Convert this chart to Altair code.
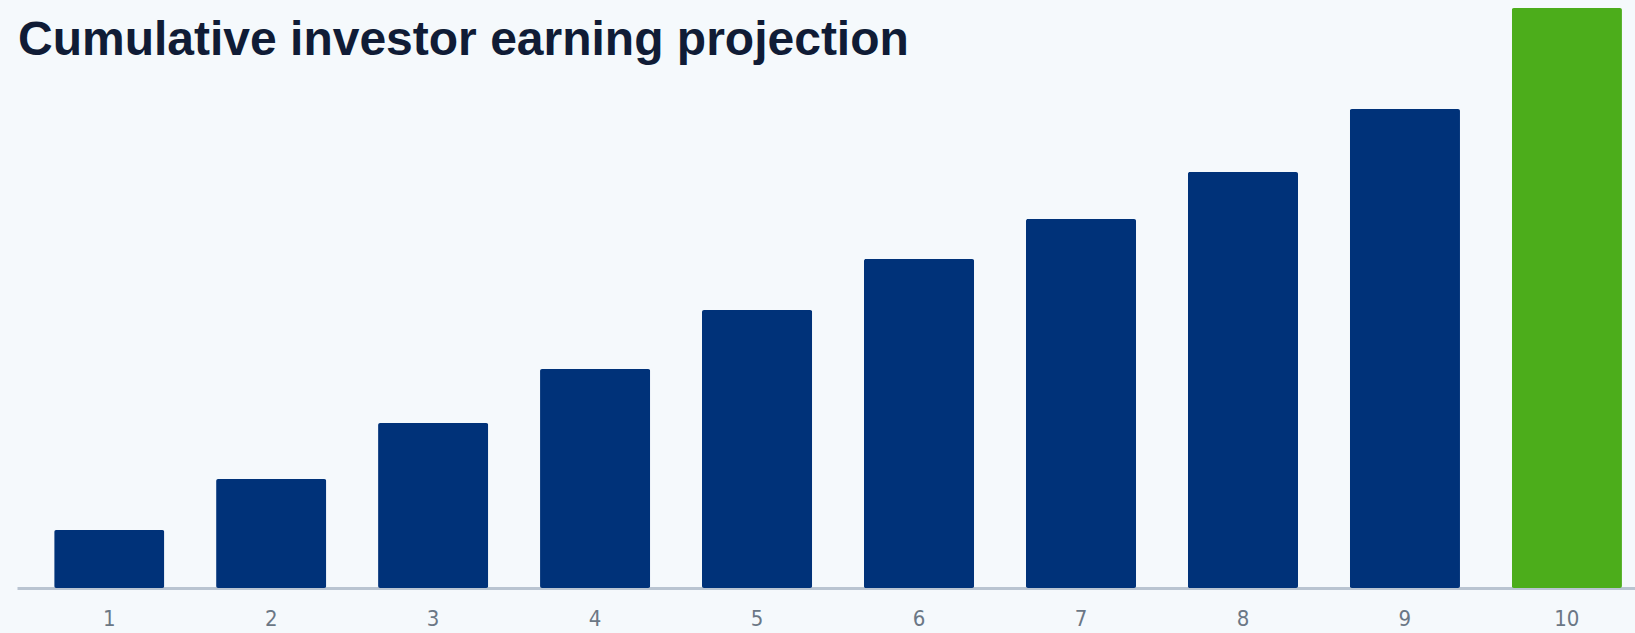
import altair as alt
import pandas as pd

title_text = "Cumulative investor earning projection"
years = ["1", "2", "3", "4", "5", "6", "7", "8", "9", "10"]
earnings = [58, 109, 165, 219, 278, 329, 369, 416, 479, 580]
highlight = ["no"] * 9 + ["yes"]

df = pd.DataFrame({"year": years, "earning": earnings, "final": highlight})

bars = alt.Chart(df).mark_bar(cornerRadius=2).encode(
    x=alt.X("year:N", sort=years,
            scale=alt.Scale(paddingInner=0.32, paddingOuter=0.155, align=0.74),
            axis=alt.Axis(title=None, labelAngle=0, ticks=False, grid=False,
                          domainColor="#b9c4d1", domainWidth=3,
                          labelColor="#6b7785", labelFontSize=22,
                          labelFont="DejaVu Sans Condensed, Liberation Sans, sans-serif",
                          labelPadding=20)),
    y=alt.Y("earning:Q", scale=alt.Scale(domain=[0, 580], nice=False),
            axis=None),
    color=alt.Color("final:N",
                    scale=alt.Scale(domain=["no", "yes"], range=["#003279", "#4cad1b"]),
                    legend=None),
)

title = alt.Chart(pd.DataFrame({"t": [title_text]})).mark_text(
    align="left", baseline="alphabetic", font="Liberation Sans",
    fontSize=48, fontWeight="bold", color="#101c36",
).encode(text="t:N", x=alt.value(1), y=alt.value(47))

chart = alt.layer(bars, title).properties(
    width=1618,
    height=580,
    background="#f5f9fc",
    padding={"left": 17, "top": 8, "right": 0, "bottom": 45},
    autosize=alt.AutoSizeParams(type="none"),
).configure_view(stroke=None)

chart.save("out.html", embed_options={"renderer": "svg", "actions": False})
